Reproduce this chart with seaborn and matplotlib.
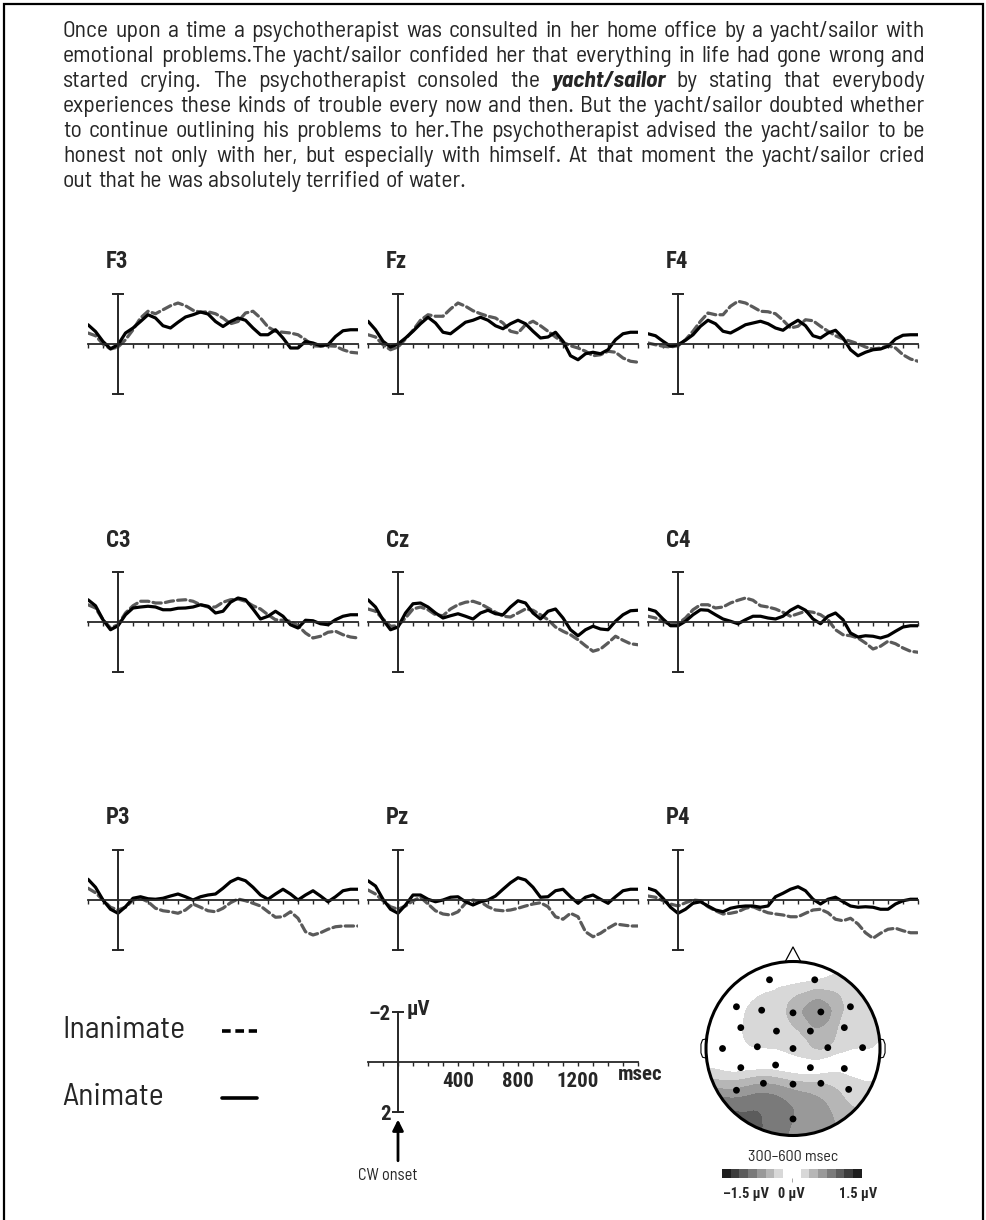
import numpy as np
import pandas as pd
import seaborn as sns
import matplotlib.pyplot as plt
import matplotlib.tri as mtri
from matplotlib import font_manager
from matplotlib.colors import ListedColormap
from matplotlib.lines import Line2D
from matplotlib.patches import Circle, Rectangle

W, H = 987, 1220

# ---- data -------------------------------------------------------------
times = np.arange(-200, 1601, 50)   # ms, one value every 50 ms

# amplitudes in microvolt (negative plotted upwards)
f3_anim = [-0.77,-0.5,-0.1,0.19,0.03,-0.44,-0.64,-0.9,-1.17,-1.04,-0.73,-0.64,-0.87,-1.08,-1.17,-1.28,-1.2,-0.9,-0.7,-0.9,-1.04,-0.95,-0.64,-0.37,-0.37,-0.57,-0.24,0.16,0.16,-0.1,-0.04,0.07,0.03,-0.3,-0.53,-0.57,-0.57]
f3_inan = [-0.44,-0.33,0,0.2,0.12,-0.17,-0.57,-1.04,-1.31,-1.21,-1.37,-1.53,-1.64,-1.53,-1.35,-1.27,-1.29,-1.21,-1.04,-0.81,-0.9,-1.24,-1.31,-1.04,-0.68,-0.51,-0.47,-0.44,-0.37,-0.17,0.07,0.09,0.07,0.09,0.23,0.33,0.36]
fz_anim = [-0.91,-0.57,-0.11,0.12,0,-0.24,-0.51,-0.81,-1.07,-0.84,-0.47,-0.41,-0.64,-0.87,-0.95,-1.07,-0.95,-0.73,-0.61,-0.81,-0.95,-0.81,-0.51,-0.24,-0.28,-0.47,-0.11,0.47,0.63,0.39,0.33,0.39,0.23,-0.17,-0.41,-0.47,-0.47]
fz_inan = [-0.37,-0.28,0.03,0.23,0.12,-0.2,-0.55,-0.95,-1.17,-1.11,-1.11,-1.4,-1.64,-1.51,-1.33,-1.21,-1.11,-1.04,-0.84,-0.51,-0.44,-0.77,-0.91,-0.73,-0.51,-0.28,-0.07,0.07,0.16,0.29,0.47,0.43,0.29,0.33,0.56,0.69,0.73]
f4_anim = [-0.41,-0.33,-0.11,0.09,0.03,-0.15,-0.37,-0.71,-0.95,-0.81,-0.51,-0.44,-0.6,-0.77,-0.84,-0.91,-0.81,-0.64,-0.55,-0.77,-0.95,-0.73,-0.33,-0.24,-0.44,-0.55,-0.24,0.23,0.47,0.33,0.23,0.2,0.09,-0.2,-0.35,-0.37,-0.37]
f4_inan = [-0.04,0.03,0.09,0.12,0.07,-0.17,-0.51,-0.91,-1.24,-1.17,-1.17,-1.51,-1.71,-1.64,-1.48,-1.31,-1.29,-1.21,-0.95,-0.64,-0.71,-0.97,-0.93,-0.71,-0.51,-0.33,-0.2,-0.11,-0.01,0.12,0.2,0.16,0.07,0.16,0.43,0.6,0.69]
c3_anim = [-0.89,-0.65,-0.09,0.31,0.15,-0.29,-0.56,-0.6,-0.63,-0.6,-0.49,-0.49,-0.55,-0.56,-0.6,-0.69,-0.63,-0.36,-0.43,-0.79,-0.96,-0.89,-0.52,-0.12,-0.23,-0.43,-0.23,0.11,0.24,-0.07,-0.05,0.07,0.11,-0.09,-0.23,-0.29,-0.29]
c3_inan = [-0.69,-0.56,-0.09,0.24,0.11,-0.36,-0.65,-0.83,-0.83,-0.76,-0.76,-0.83,-0.87,-0.89,-0.83,-0.69,-0.6,-0.6,-0.79,-0.89,-0.92,-0.83,-0.65,-0.52,-0.29,-0.09,-0.07,-0.03,0.15,0.44,0.64,0.57,0.41,0.37,0.51,0.6,0.64]
cz_anim = [-0.89,-0.6,-0.09,0.31,0.2,-0.36,-0.73,-0.76,-0.6,-0.36,-0.16,-0.25,-0.33,-0.23,-0.12,-0.36,-0.47,-0.33,-0.29,-0.6,-0.85,-0.76,-0.36,-0.12,-0.43,-0.52,-0.16,0.31,0.55,0.31,0.17,0.28,0.31,-0.03,-0.29,-0.45,-0.47]
cz_inan = [-0.52,-0.43,-0.12,0.17,0.15,-0.16,-0.52,-0.6,-0.49,-0.29,-0.25,-0.52,-0.69,-0.79,-0.83,-0.73,-0.56,-0.39,-0.23,-0.2,-0.36,-0.52,-0.47,-0.29,-0.09,0.2,0.37,0.51,0.71,0.95,1.17,1.08,0.84,0.57,0.73,0.87,0.91]
c4_anim = [-0.52,-0.43,-0.12,0.15,0.15,-0.03,-0.29,-0.49,-0.47,-0.29,-0.12,-0.03,0.07,-0.09,-0.23,-0.23,-0.16,-0.12,-0.23,-0.47,-0.63,-0.47,-0.12,0.07,-0.23,-0.36,-0.09,0.44,0.6,0.55,0.57,0.64,0.55,0.37,0.2,0.15,0.15]
c4_inan = [-0.23,-0.16,-0.03,0.11,0.07,-0.16,-0.49,-0.69,-0.69,-0.56,-0.6,-0.76,-0.87,-0.96,-0.87,-0.65,-0.6,-0.52,-0.39,-0.23,-0.33,-0.43,-0.39,-0.29,-0.09,0.31,0.51,0.55,0.64,0.84,1.08,0.97,0.77,0.87,1.04,1.17,1.21]
p3_anim = [-0.83,-0.51,0,0.37,0.53,0.27,-0.07,-0.13,-0.05,-0.03,-0.07,-0.16,-0.24,-0.13,0,-0.13,-0.2,-0.24,-0.47,-0.73,-0.87,-0.77,-0.51,-0.2,-0.03,-0.24,-0.43,-0.24,0,-0.2,-0.37,-0.16,0.07,-0.13,-0.37,-0.43,-0.43]
p3_inan = [-0.47,-0.29,0,0.29,0.4,0.29,0,-0.07,0.07,0.33,0.43,0.47,0.53,0.4,0.16,0.29,0.43,0.47,0.33,0.11,-0.04,0.03,0.13,0.24,0.47,0.69,0.67,0.47,0.73,1.27,1.4,1.31,1.17,1.07,1.04,1.04,1.04]
pz_anim = [-0.77,-0.56,-0.03,0.37,0.53,0.2,-0.2,-0.2,-0.03,0.07,0,-0.11,-0.13,0.07,0.2,0.07,0,-0.16,-0.43,-0.69,-0.89,-0.8,-0.51,-0.11,-0.13,-0.37,-0.43,-0.13,0.13,-0.11,-0.2,-0.03,0.13,-0.13,-0.37,-0.43,-0.43]
pz_inan = [-0.4,-0.24,0.03,0.27,0.37,0.24,0.03,-0.11,0.16,0.43,0.56,0.6,0.47,0.13,0,0.07,0.27,0.4,0.43,0.4,0.33,0.24,0.16,0.11,0.27,0.67,0.77,0.53,0.67,1.27,1.47,1.33,1.13,0.96,1.0,1.04,1.04]
p4_anim = [-0.47,-0.37,-0.07,0.29,0.53,0.37,0.13,0.07,0.24,0.4,0.47,0.33,0.27,0.24,0.24,0.29,0.24,-0.13,-0.27,-0.43,-0.53,-0.37,-0.03,0.16,-0.03,-0.11,0.07,0.24,0.29,0.27,0.29,0.37,0.37,0.16,0.03,-0.03,-0.03]
p4_inan = [-0.16,-0.11,0.03,0.16,0.24,0.11,0,0.03,0.27,0.43,0.56,0.53,0.47,0.33,0.27,0.4,0.51,0.56,0.6,0.67,0.67,0.53,0.4,0.37,0.51,0.77,0.83,0.73,0.96,1.31,1.53,1.33,1.17,1.13,1.23,1.31,1.31]

panels = [('F3', f3_anim, f3_inan), ('Fz', fz_anim, fz_inan), ('F4', f4_anim, f4_inan),
          ('C3', c3_anim, c3_inan), ('Cz', cz_anim, cz_inan), ('C4', c4_anim, c4_inan),
          ('P3', p3_anim, p3_inan), ('Pz', pz_anim, pz_inan), ('P4', p4_anim, p4_inan)]

# scalp map 300-600 ms: electrode positions (unit head circle) and values
elec_x = [-0.27,0.25,-0.65,-0.36,0.0,0.32,0.66,-0.60,-0.19,0.20,0.59,-0.81,-0.41,0.0,0.40,0.80,-0.60,-0.20,0.20,0.59,-0.65,-0.34,0.0,0.32,0.64,0.0]
elec_y = [0.79,0.79,0.48,0.44,0.41,0.42,0.48,0.24,0.20,0.20,0.24,0.0,0.02,0.0,0.01,0.01,-0.22,-0.19,-0.22,-0.23,-0.48,-0.40,-0.41,-0.40,-0.47,-0.81]
elec_v = [-0.1,-0.2,-0.12,-0.28,-0.45,-0.68,-0.3,-0.18,-0.28,-0.5,-0.3,-0.05,-0.2,-0.25,-0.38,-0.2,0.1,0.05,0.0,0.1,0.6,0.55,0.45,0.38,0.3,0.75]
rim_deg = [90,60,30,0,-30,-60,-90,-120,-150,-180,-210,-240]
rim_v = [-0.05,-0.18,-0.25,-0.1,0.3,0.55,0.7,1.0,0.7,0.0,-0.02,-0.05]

paragraph = [
    "Once upon a time a psychotherapist was consulted in her home office by a yacht/sailor with",
    "emotional problems.The yacht/sailor confided her that everything in life had gone wrong and",
    "started crying. The psychotherapist consoled the *yacht/sailor* by stating that everybody",
    "experiences these kinds of trouble every now and then. But the yacht/sailor doubted whether",
    "to continue outlining his problems to her.The psychotherapist advised the yacht/sailor to be",
    "honest not only with her, but especially with himself. At that moment the yacht/sailor cried",
    "out that he was absolutely terrified of water.",
]

# ---- fonts ------------------------------------------------------------
sns.set_style('ticks')
plt.rcParams['font.family'] = ['Lato', 'DejaVu Sans']


def weight_of(f):
    w = f.weight
    if isinstance(w, str):
        w = font_manager.weight_dict.get(w, 400)
    return w


def pick(stretch, weight, italic, prefer):
    best = None
    for f in font_manager.fontManager.ttflist:
        tag = (f.name + ' ' + f.fname).lower().replace(' ', '').replace('-', '')
        if stretch == 'condensed':
            ok = ('condensed' in tag or 'narrow' in tag) and not any(
                k in tag for k in ('semicondensed', 'extracondensed', 'ultracondensed'))
        else:
            ok = 'semicondensed' in tag
        if not ok or weight_of(f) != weight:
            continue
        if (f.style != 'normal') != italic:
            continue
        rank = next((i for i, p in enumerate(prefer) if p in tag), len(prefer))
        if best is None or rank < best[0]:
            best = (rank, f.fname)
    return best[1] if best else None


cond_file = pick('condensed', 700, False, ['liberation', 'roboto', 'dejavu', 'noto'])
body_file = pick('semi', 400, False, ['notosans', 'opensans'])
emph_file = pick('semi', 700, True, ['notosans', 'opensans'])


def cfont(size):
    if cond_file:
        return font_manager.FontProperties(fname=cond_file, size=size)
    return font_manager.FontProperties(family='Liberation Sans', weight='bold', size=size)


def bfont(size, emph=False):
    f = emph_file if emph else body_file
    if f and body_file:
        return font_manager.FontProperties(fname=f, size=size)
    return font_manager.FontProperties(family='Lato', size=size,
                                       weight='bold' if emph else 'normal',
                                       style='italic' if emph else 'normal')


fig = plt.figure(figsize=(W / 100, H / 100), dpi=100)
fig.patch.set_facecolor('white')
renderer = fig.canvas.get_renderer()


def px_rect(x0, y0, x1, y1):
    return [x0 / W, 1 - y1 / H, (x1 - x0) / W, (y1 - y0) / H]


def text_w(s, fp):
    t = fig.text(0, 0, s, fontproperties=fp)
    w = t.get_window_extent(renderer).width
    t.remove()
    return w


def fit(s, target, maker, base=12):
    return base * target / text_w(s, maker(base))


# frame
fig.add_artist(Rectangle((4 / W, -0.01), (983 - 4) / W, 1.01 - 4 / H,
                         transform=fig.transFigure, fill=False, lw=1.6, ec='k'))

# ---- justified paragraph ---------------------------------------------
words = [[(w.strip('*'), w.startswith('*')) for w in line.split()] for line in paragraph]
base = 10
space = text_w('a a', bfont(base)) - text_w('aa', bfont(base))
natural = [sum(text_w(w, bfont(base, e)) for w, e in ln) + space * (len(ln) - 1)
           for ln in words[:-1]]
left, right = 63, 925
size = base * (right - left) * 0.985 / max(natural)
space *= size / base
for i, ln in enumerate(words):
    widths = [text_w(w, bfont(size, e)) for w, e in ln]
    gap = space if i == len(words) - 1 else (right - left - sum(widths)) / (len(ln) - 1)
    x = left
    yb = 37 + 25 * i
    for (w, e), wd in zip(ln, widths):
        fig.text(x / W, 1 - yb / H, w, fontproperties=bfont(size, e), va='baseline')
        x += wd + gap

# ---- ERP panels -------------------------------------------------------
col_x = [118, 398, 678]
row_y = [344, 622, 900]
palette = {'Inanimate': '#5a5a5a', 'Animate': 'black'}
dashes = {'Inanimate': (2.6, 1.3), 'Animate': ''}


def erp_axes(rect):
    ax = fig.add_axes(rect)
    ax.set_facecolor('none')
    for s in ['top', 'right']:
        ax.spines[s].set_visible(False)
    ax.spines['left'].set_position(('data', 0))
    ax.spines['bottom'].set_position(('data', 0))
    ax.spines['left'].set_linewidth(1.4)
    ax.spines['bottom'].set_linewidth(1.3)
    return ax


for i, (name, anim, inan) in enumerate(panels):
    r, c = divmod(i, 3)
    xa, yb = col_x[c], row_y[r]
    ax = erp_axes(px_rect(xa - 30, yb - 50, xa + 240, yb + 50))
    df = pd.DataFrame({'time': np.tile(times, 2),
                       'amp': np.r_[inan, anim],
                       'cond': ['Inanimate'] * len(times) + ['Animate'] * len(times)})
    sns.lineplot(data=df, x='time', y='amp', hue='cond', style='cond',
                 hue_order=['Inanimate', 'Animate'], style_order=['Inanimate', 'Animate'],
                 palette=palette, dashes=dashes, lw=2.3, legend=False,
                 estimator=None, errorbar=None, ax=ax,
                 solid_joinstyle='round', dash_joinstyle='round', dash_capstyle='round')
    ax.set_xlim(-200, 1600)
    ax.set_ylim(2, -2)
    ax.set_xticks(np.arange(-200, 1601, 100))
    ax.set_yticks([-2, 2])
    ax.tick_params(axis='x', direction='out', length=3, width=1, labelbottom=False)
    ax.tick_params(axis='y', direction='inout', length=8, width=1.4, labelleft=False)
    ax.set(xlabel='', ylabel='')
    fig.text((xa - 12) / W, 1 - (yb - 82) / H, name, fontproperties=cfont(16.5),
             ha='left', va='center')

# ---- scale axis -------------------------------------------------------
sax = erp_axes(px_rect(368, 1012, 638, 1112))
sax.set_xlim(-200, 1600)
sax.set_ylim(2, -2)
sax.set_xticks([400, 800, 1200])
sax.set_xticks(np.arange(-200, 1601, 100), minor=True)
sax.set_yticks([-2, 2], ['\u20132', '2'])
sax.tick_params(axis='x', which='both', direction='out', length=3, width=1, pad=4)
sax.tick_params(axis='y', direction='inout', length=8, width=1.4, pad=1)
for lab in sax.get_xticklabels() + sax.get_yticklabels():
    lab.set_fontproperties(cfont(15))
sax.text(1615, 0.5, 'msec', fontproperties=cfont(15), ha='center', va='center')
sax.text(55, -2.1, '\u00b5V', fontproperties=cfont(15), ha='left', va='center')
sax.annotate('', xy=(0, 2.3), xytext=(0, 3.95), annotation_clip=False,
             arrowprops=dict(arrowstyle='-|>', color='k', lw=2, mutation_scale=16,
                             shrinkA=0, shrinkB=0))
sax.text(-65, 4.55, 'CW onset', fontproperties=bfont(fit('CW onset', 60, bfont)),
         ha='center', va='center', clip_on=False)

# ---- legend -----------------------------------------------------------
leg_size = fit('Inanimate', 123, bfont)
for lab, yy, ls in [('Inanimate', 1030, (0, (2.4, 1.3))), ('Animate', 1097, '-')]:
    fig.text(62 / W, 1 - yy / H, lab, fontproperties=bfont(leg_size), ha='left', va='center')
    fig.add_artist(Line2D([222 / W, 257 / W], [1 - (yy + 1) / H] * 2, color='k', lw=2.6,
                          ls=ls, transform=fig.transFigure))

# ---- scalp map --------------------------------------------------------
grays = ['#1e1e1e', '#3c3c3c', '#5c5c5c', '#7a7a7a', '#999999', '#b6b6b6', '#d8d8d8',
         '#ffffff', '#ffffff', '#d8d8d8', '#b6b6b6', '#999999', '#7a7a7a', '#5c5c5c',
         '#3c3c3c', '#1e1e1e']
cmap = ListedColormap(grays)
levels = np.linspace(-1.5, 1.5, 17)

cx, cy = 793, 1048.5
half = 1.253 * 87
tax = fig.add_axes(px_rect(cx - half, cy - half, cx + half, cy + half))
tax.set_facecolor('none')
tax.set_xlim(-1.253, 1.253)
tax.set_ylim(-1.253, 1.253)
tax.set_aspect('equal')
tax.axis('off')

ang = np.deg2rad(rim_deg)
px = np.r_[elec_x, 1.05 * np.cos(ang)]
py = np.r_[elec_y, 1.05 * np.sin(ang)]
pv = np.r_[elec_v, rim_v]
tri = mtri.Triangulation(px, py)
tri_f, v_f = mtri.UniformTriRefiner(tri).refine_field(pv, subdiv=4)
cs = tax.tricontourf(tri_f, np.clip(v_f, -1.49, 1.49), levels=levels, cmap=cmap,
                     vmin=-1.5, vmax=1.5)
cs.set_clip_path(Circle((0, 0), 1.0, transform=tax.transData))

tax.add_patch(Circle((0, 0), 1.0, fill=False, lw=2.2, ec='k', zorder=4))
tax.plot([-0.09, 0, 0.09], [0.997, 1.167, 0.997], color='k', lw=0.9, zorder=4)
for sgn in (-1, 1):
    tax.plot(sgn * np.array([1.0, 1.04, 1.058, 1.058, 1.04, 1.0]),
             [0.11, 0.1, 0.05, -0.05, -0.1, -0.11], color='k', lw=0.8, zorder=4)
sns.scatterplot(x=elec_x, y=elec_y, color='k', s=24, edgecolor='none', ax=tax, zorder=5)

fig.text(cx / W, 1 - 1157 / H, '300\u2013600 msec',
         fontproperties=bfont(fit('300\u2013600 msec', 90, bfont)), ha='center', va='center')

cax = fig.add_axes(px_rect(722, 1169, 862, 1178))
cb = fig.colorbar(cs, cax=cax, orientation='horizontal')
cb.outline.set_visible(False)
cb.set_ticks([0])
cax.tick_params(length=3, width=0.6, color='#999999', labelbottom=False)
cb_size = fit('\u20131.5 \u00b5V', 46, cfont)
for xv, lab in [(746, '\u20131.5 \u00b5V'), (791, '0 \u00b5V'), (858, '1.5 \u00b5V')]:
    fig.text(xv / W, 1 - 1194 / H, lab, fontproperties=cfont(cb_size),
             ha='center', va='center')

fig.savefig('out.png', dpi=100, facecolor='white')
